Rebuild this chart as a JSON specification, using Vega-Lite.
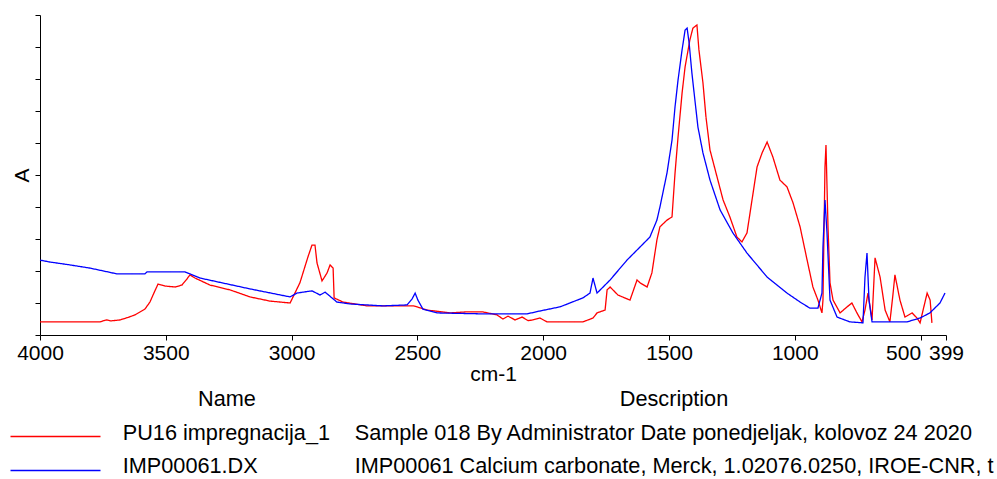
{
  "$schema": "https://vega.github.io/schema/vega-lite/v6.json",
  "width": 906,
  "height": 320,
  "autosize": {"type": "none"},
  "padding": {"left": 40, "top": 15, "right": 51, "bottom": 144},
  "background": "white",
  "config": {
    "view": {"stroke": null},
    "font": "Liberation Sans",
    "axis": {"labelFont": "Liberation Sans", "titleFont": "Liberation Sans", "labelColor": "#000", "titleColor": "#000", "domainColor": "#000", "tickColor": "#000", "titleFontWeight": "normal", "grid": false},
    "legend": {"labelFont": "Liberation Sans", "titleFont": "Liberation Sans", "labelColor": "#000", "titleColor": "#000", "titleFontWeight": "normal", "padding": 0}
  },
  "datasets": {
    "meta": [
      {"id": "PU16", "name": "PU16 impregnacija_1", "description": "Sample 018 By Administrator Date ponedjeljak, kolovoz 24 2020"},
      {"id": "IMP", "name": "IMP00061.DX", "description": "IMP00061 Calcium carbonate, Merck, 1.02076.0250, IROE-CNR, t"}
    ]
  },
  "data": {"values": [
    {"id":"PU16","wn":4000,"a":0.41},{"id":"PU16","wn":3762,"a":0.41},{"id":"PU16","wn":3745,"a":0.45},{"id":"PU16","wn":3734,"a":0.47},{"id":"PU16","wn":3720,"a":0.44},{"id":"PU16","wn":3682,"a":0.47},{"id":"PU16","wn":3650,"a":0.55},{"id":"PU16","wn":3622,"a":0.63},{"id":"PU16","wn":3583,"a":0.81},{"id":"PU16","wn":3563,"a":1.03},{"id":"PU16","wn":3545,"a":1.35},{"id":"PU16","wn":3531,"a":1.59},{"id":"PU16","wn":3515,"a":1.56},{"id":"PU16","wn":3503,"a":1.53},{"id":"PU16","wn":3463,"a":1.5},{"id":"PU16","wn":3436,"a":1.56},{"id":"PU16","wn":3416,"a":1.75},{"id":"PU16","wn":3404,"a":1.88},{"id":"PU16","wn":3384,"a":1.78},{"id":"PU16","wn":3324,"a":1.56},{"id":"PU16","wn":3245,"a":1.41},{"id":"PU16","wn":3165,"a":1.19},{"id":"PU16","wn":3086,"a":1.06},{"id":"PU16","wn":3006,"a":1.0},{"id":"PU16","wn":2967,"a":1.63},{"id":"PU16","wn":2935,"a":2.44},{"id":"PU16","wn":2919,"a":2.81},{"id":"PU16","wn":2907,"a":2.81},{"id":"PU16","wn":2899,"a":2.25},{"id":"PU16","wn":2879,"a":1.69},{"id":"PU16","wn":2859,"a":1.94},{"id":"PU16","wn":2847,"a":2.19},{"id":"PU16","wn":2835,"a":2.09},{"id":"PU16","wn":2831,"a":1.16},{"id":"PU16","wn":2796,"a":1.03},{"id":"PU16","wn":2700,"a":0.91},{"id":"PU16","wn":2517,"a":0.91},{"id":"PU16","wn":2502,"a":0.88},{"id":"PU16","wn":2462,"a":0.78},{"id":"PU16","wn":2370,"a":0.69},{"id":"PU16","wn":2311,"a":0.72},{"id":"PU16","wn":2239,"a":0.72},{"id":"PU16","wn":2184,"a":0.63},{"id":"PU16","wn":2160,"a":0.5},{"id":"PU16","wn":2140,"a":0.59},{"id":"PU16","wn":2112,"a":0.47},{"id":"PU16","wn":2084,"a":0.56},{"id":"PU16","wn":2060,"a":0.45},{"id":"PU16","wn":2041,"a":0.47},{"id":"PU16","wn":2013,"a":0.53},{"id":"PU16","wn":1985,"a":0.41},{"id":"PU16","wn":1842,"a":0.41},{"id":"PU16","wn":1802,"a":0.53},{"id":"PU16","wn":1786,"a":0.69},{"id":"PU16","wn":1754,"a":0.78},{"id":"PU16","wn":1746,"a":1.41},{"id":"PU16","wn":1734,"a":1.5},{"id":"PU16","wn":1703,"a":1.25},{"id":"PU16","wn":1655,"a":1.09},{"id":"PU16","wn":1627,"a":1.72},{"id":"PU16","wn":1615,"a":1.63},{"id":"PU16","wn":1587,"a":1.5},{"id":"PU16","wn":1568,"a":1.94},{"id":"PU16","wn":1548,"a":2.97},{"id":"PU16","wn":1536,"a":3.38},{"id":"PU16","wn":1508,"a":3.59},{"id":"PU16","wn":1488,"a":3.69},{"id":"PU16","wn":1476,"a":5.06},{"id":"PU16","wn":1464,"a":6.19},{"id":"PU16","wn":1448,"a":7.56},{"id":"PU16","wn":1436,"a":8.38},{"id":"PU16","wn":1417,"a":9.22},{"id":"PU16","wn":1405,"a":9.59},{"id":"PU16","wn":1389,"a":9.69},{"id":"PU16","wn":1381,"a":8.91},{"id":"PU16","wn":1365,"a":7.88},{"id":"PU16","wn":1353,"a":6.81},{"id":"PU16","wn":1337,"a":5.78},{"id":"PU16","wn":1309,"a":4.94},{"id":"PU16","wn":1285,"a":4.22},{"id":"PU16","wn":1258,"a":3.69},{"id":"PU16","wn":1230,"a":3.06},{"id":"PU16","wn":1210,"a":2.91},{"id":"PU16","wn":1190,"a":3.19},{"id":"PU16","wn":1170,"a":4.22},{"id":"PU16","wn":1150,"a":5.25},{"id":"PU16","wn":1130,"a":5.69},{"id":"PU16","wn":1110,"a":6.03},{"id":"PU16","wn":1087,"a":5.56},{"id":"PU16","wn":1059,"a":4.84},{"id":"PU16","wn":1031,"a":4.63},{"id":"PU16","wn":1007,"a":4.13},{"id":"PU16","wn":979,"a":3.38},{"id":"PU16","wn":951,"a":2.34},{"id":"PU16","wn":928,"a":1.5},{"id":"PU16","wn":908,"a":1.09},{"id":"PU16","wn":892,"a":0.69},{"id":"PU16","wn":888,"a":1.09},{"id":"PU16","wn":880,"a":5.25},{"id":"PU16","wn":876,"a":5.94},{"id":"PU16","wn":868,"a":3.38},{"id":"PU16","wn":860,"a":1.63},{"id":"PU16","wn":848,"a":1.09},{"id":"PU16","wn":820,"a":0.69},{"id":"PU16","wn":792,"a":0.88},{"id":"PU16","wn":773,"a":1.0},{"id":"PU16","wn":753,"a":0.69},{"id":"PU16","wn":733,"a":0.41},{"id":"PU16","wn":721,"a":0.78},{"id":"PU16","wn":709,"a":1.31},{"id":"PU16","wn":693,"a":0.47},{"id":"PU16","wn":681,"a":2.41},{"id":"PU16","wn":661,"a":1.81},{"id":"PU16","wn":641,"a":0.78},{"id":"PU16","wn":622,"a":0.41},{"id":"PU16","wn":610,"a":1.25},{"id":"PU16","wn":602,"a":1.88},{"id":"PU16","wn":582,"a":1.09},{"id":"PU16","wn":562,"a":0.56},{"id":"PU16","wn":534,"a":0.69},{"id":"PU16","wn":514,"a":0.53},{"id":"PU16","wn":502,"a":0.38},{"id":"PU16","wn":490,"a":0.78},{"id":"PU16","wn":474,"a":1.31},{"id":"PU16","wn":462,"a":1.09},{"id":"PU16","wn":455,"a":0.38},
    {"id":"IMP","wn":4000,"a":2.34},{"id":"IMP","wn":3960,"a":2.28},{"id":"IMP","wn":3881,"a":2.19},{"id":"IMP","wn":3801,"a":2.09},{"id":"IMP","wn":3694,"a":1.91},{"id":"IMP","wn":3583,"a":1.91},{"id":"IMP","wn":3575,"a":1.97},{"id":"IMP","wn":3424,"a":1.97},{"id":"IMP","wn":3404,"a":1.91},{"id":"IMP","wn":3364,"a":1.78},{"id":"IMP","wn":3165,"a":1.44},{"id":"IMP","wn":3006,"a":1.19},{"id":"IMP","wn":2979,"a":1.31},{"id":"IMP","wn":2919,"a":1.38},{"id":"IMP","wn":2887,"a":1.25},{"id":"IMP","wn":2867,"a":1.34},{"id":"IMP","wn":2820,"a":1.03},{"id":"IMP","wn":2768,"a":0.97},{"id":"IMP","wn":2637,"a":0.91},{"id":"IMP","wn":2541,"a":0.94},{"id":"IMP","wn":2521,"a":1.13},{"id":"IMP","wn":2509,"a":1.31},{"id":"IMP","wn":2498,"a":1.09},{"id":"IMP","wn":2478,"a":0.81},{"id":"IMP","wn":2422,"a":0.69},{"id":"IMP","wn":2239,"a":0.66},{"id":"IMP","wn":2064,"a":0.66},{"id":"IMP","wn":2013,"a":0.75},{"id":"IMP","wn":1933,"a":0.88},{"id":"IMP","wn":1842,"a":1.16},{"id":"IMP","wn":1814,"a":1.31},{"id":"IMP","wn":1802,"a":1.78},{"id":"IMP","wn":1786,"a":1.31},{"id":"IMP","wn":1734,"a":1.72},{"id":"IMP","wn":1667,"a":2.34},{"id":"IMP","wn":1615,"a":2.75},{"id":"IMP","wn":1576,"a":3.06},{"id":"IMP","wn":1548,"a":3.59},{"id":"IMP","wn":1536,"a":4.0},{"id":"IMP","wn":1508,"a":5.06},{"id":"IMP","wn":1488,"a":6.09},{"id":"IMP","wn":1476,"a":7.13},{"id":"IMP","wn":1464,"a":7.97},{"id":"IMP","wn":1448,"a":8.91},{"id":"IMP","wn":1436,"a":9.53},{"id":"IMP","wn":1428,"a":9.59},{"id":"IMP","wn":1420,"a":9.13},{"id":"IMP","wn":1409,"a":8.19},{"id":"IMP","wn":1397,"a":7.34},{"id":"IMP","wn":1385,"a":6.5},{"id":"IMP","wn":1365,"a":5.69},{"id":"IMP","wn":1337,"a":4.84},{"id":"IMP","wn":1297,"a":3.91},{"id":"IMP","wn":1246,"a":3.19},{"id":"IMP","wn":1190,"a":2.56},{"id":"IMP","wn":1110,"a":1.81},{"id":"IMP","wn":1031,"a":1.31},{"id":"IMP","wn":979,"a":1.03},{"id":"IMP","wn":940,"a":0.84},{"id":"IMP","wn":908,"a":0.84},{"id":"IMP","wn":892,"a":1.31},{"id":"IMP","wn":888,"a":2.75},{"id":"IMP","wn":880,"a":4.22},{"id":"IMP","wn":872,"a":3.19},{"id":"IMP","wn":860,"a":1.09},{"id":"IMP","wn":832,"a":0.56},{"id":"IMP","wn":781,"a":0.41},{"id":"IMP","wn":729,"a":0.38},{"id":"IMP","wn":721,"a":1.81},{"id":"IMP","wn":713,"a":2.56},{"id":"IMP","wn":705,"a":1.09},{"id":"IMP","wn":693,"a":0.41},{"id":"IMP","wn":554,"a":0.41},{"id":"IMP","wn":502,"a":0.53},{"id":"IMP","wn":463,"a":0.69},{"id":"IMP","wn":423,"a":1.0},{"id":"IMP","wn":403,"a":1.31}
  ]},
  "transform": [
    {"lookup": "id", "from": {"data": {"name": "meta"}, "key": "id", "fields": ["name", "description"]}}
  ],
  "mark": {"type": "line", "strokeWidth": 1.3},
  "encoding": {
    "x": {
      "field": "wn", "type": "quantitative",
      "scale": {"domain": [399, 4000], "reverse": true, "nice": false, "zero": false},
      "axis": {
        "values": [4000, 3500, 3000, 2500, 2000, 1500, 1000, 500, 399],
        "format": "d",
        "title": "cm-1", "titleFontSize": 21, "titlePadding": 0,
        "labelFontSize": 21, "labelPadding": 2, "tickSize": 5,
        "labelOverlap": false, "labelFlush": false, "labelBound": false,
        "labelAlign": {"expr": "datum.value == 500 ? 'right' : 'center'"}
      }
    },
    "y": {
      "field": "a", "type": "quantitative",
      "scale": {"domain": [0, 10], "nice": false, "zero": false},
      "axis": {"values": [0, 1, 2, 3, 4, 5, 6, 7, 8, 9, 10], "labels": false, "tickSize": 5, "title": "A", "titleFontSize": 21, "titlePadding": 2}
    },
    "color": {
      "field": "id", "type": "nominal",
      "scale": {"domain": ["PU16", "IMP"], "range": ["#ff0000", "#0000ff"]},
      "legend": {"orient": "none", "legendX": 5, "legendY": 411, "title": null, "symbolType": "M-45,0H45", "symbolSize": 4, "symbolStrokeWidth": 1.5, "labelExpr": "' '", "labelOffset": 0, "rowPadding": 12, "labelFontSize": 21}
    },
    "opacity": {
      "field": "name", "type": "nominal",
      "scale": {"domain": ["PU16 impregnacija_1", "IMP00061.DX"], "range": [1, 1]},
      "legend": {"orient": "none", "legendX": 83, "legendY": 374, "title": "Name", "titleFontSize": 21.7, "titleAnchor": "middle", "titlePadding": 11, "labelFontSize": 21.7, "labelLimit": 1000, "symbolType": "M0,0", "symbolSize": 1, "symbolOpacity": 0, "symbolStrokeWidth": 0, "labelOffset": -22, "rowPadding": 10}
    },
    "strokeDash": {
      "field": "description", "type": "nominal",
      "scale": {"domain": ["Sample 018 By Administrator Date ponedjeljak, kolovoz 24 2020", "IMP00061 Calcium carbonate, Merck, 1.02076.0250, IROE-CNR, t"], "range": [[1, 0], [1, 0]]},
      "legend": {"orient": "none", "legendX": 315, "legendY": 374, "title": "Description", "titleFontSize": 21.7, "titleAnchor": "middle", "titlePadding": 11, "labelFontSize": 21.7, "labelLimit": 1000, "symbolType": "M0,0", "symbolSize": 1, "symbolOpacity": 0, "symbolStrokeWidth": 0, "labelOffset": -22, "rowPadding": 10}
    }
  }
}
